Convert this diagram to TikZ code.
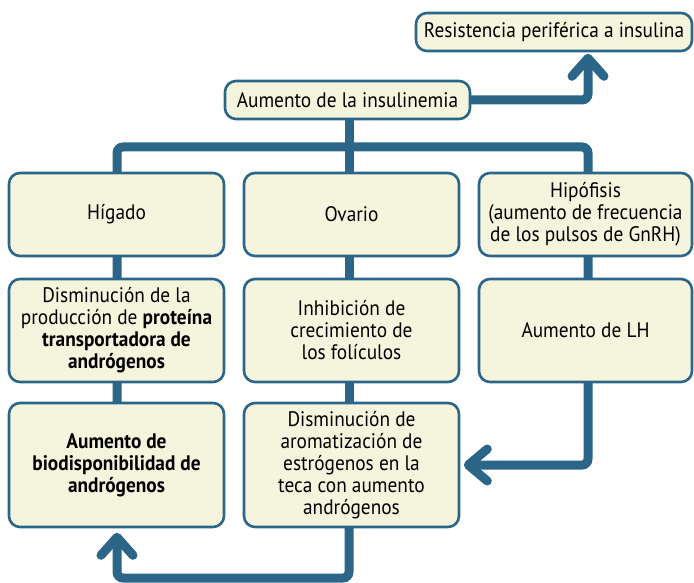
\documentclass[tikz,border=0pt]{standalone}
\usepackage{fontspec}
\setmainfont[FakeStretch=0.92]{PT Sans}
\usetikzlibrary{calc}
\definecolor{bl}{HTML}{2B6689}
\definecolor{cr}{HTML}{F5F5DE}
\tikzset{
  box/.style={draw=bl, fill=cr, line width=2.6pt, rounded corners=11pt, align=center,
    inner sep=0pt, font=\fontsize{21}{22}\selectfont},
  conn/.style={draw=bl, line width=9pt},
  chev/.style={draw=bl, line width=9pt, line cap=round, line join=round}
}
\begin{document}
\begin{tikzpicture}[x=1pt,y=-1pt]
\useasboundingbox (0,0) rectangle (694,583);
\coordinate (c1) at (117,0);
\coordinate (c2) at (349,0);
\coordinate (c3) at (588,0);
\coordinate (bus) at (0,147);
\coordinate (bot) at (0,578);
% connectors
\draw[conn] (c2 |- 0,100) -- (c2 |- 0,465);
\draw[conn, rounded corners=6pt] (c1 |- 0,465) -- (c1 |- bus) -- (c3 |- bus) -- (c3 |- 0,465) -- (469,465);
\draw[conn, rounded corners=6pt] (400,100) -| (588,58);
\draw[conn, rounded corners=6pt] (c2 |- 0,465) -- (c2 |- bot) -- (c1 |- bot) -- (117,538);
% boxes
\node[box, minimum width=276pt, minimum height=38pt] (res) at (554,32) {Resistencia periférica a insulina};
\node[box, minimum width=245pt, minimum height=38pt] (ins) at (347.5,100) {Aumento de la insulinemia};
\node[box, minimum width=215pt, minimum height=83pt] (hig) at (116.5,214.5) {Hígado};
\node[box, minimum width=215pt, minimum height=83pt] (ova) at (351.5,214.5) {Ovario};
\node[box, minimum width=213pt, minimum height=83pt] (hip) at (585.5,214.5) {Hipófisis\\(aumento de frecuencia\\de los pulsos de GnRH)};
\node[box, minimum width=215pt, minimum height=103pt] (dis) at (116.5,330.5) {Disminución de la\\producción de \textbf{proteína}\\\textbf{transportadora de}\\\textbf{andrógenos}};
\node[box, minimum width=215pt, minimum height=103pt] (inh) at (351.5,330.5) {Inhibición de\\crecimiento de\\los folículos};
\node[box, minimum width=213pt, minimum height=103pt] (lh) at (585.5,330.5) {Aumento de LH};
\node[box, minimum width=215pt, minimum height=124pt] (bio) at (116.5,465) {\textbf{Aumento de}\\\textbf{biodisponibilidad de}\\\textbf{andrógenos}};
\node[box, minimum width=215pt, minimum height=124pt] (aro) at (351.5,465) {Disminución de\\aromatización de\\estrógenos en la\\teca con aumento\\andrógenos};
% arrow heads
\coordinate (t1) at ([yshift=-6pt]c3 |- res.south);
\draw[chev] ([shift={(-16pt,-18pt)}]t1) -- (t1) -- ([shift={(16pt,-18pt)}]t1);
\coordinate (t2) at ([xshift=8pt]aro.east);
\draw[chev] ([shift={(19pt,16pt)}]t2) -- (t2) -- ([shift={(19pt,-16pt)}]t2);
\coordinate (t3) at ([yshift=-9pt]c1 |- bio.south);
\draw[chev] ([shift={(-16pt,-18pt)}]t3) -- (t3) -- ([shift={(16pt,-18pt)}]t3);
\end{tikzpicture}
\end{document}
